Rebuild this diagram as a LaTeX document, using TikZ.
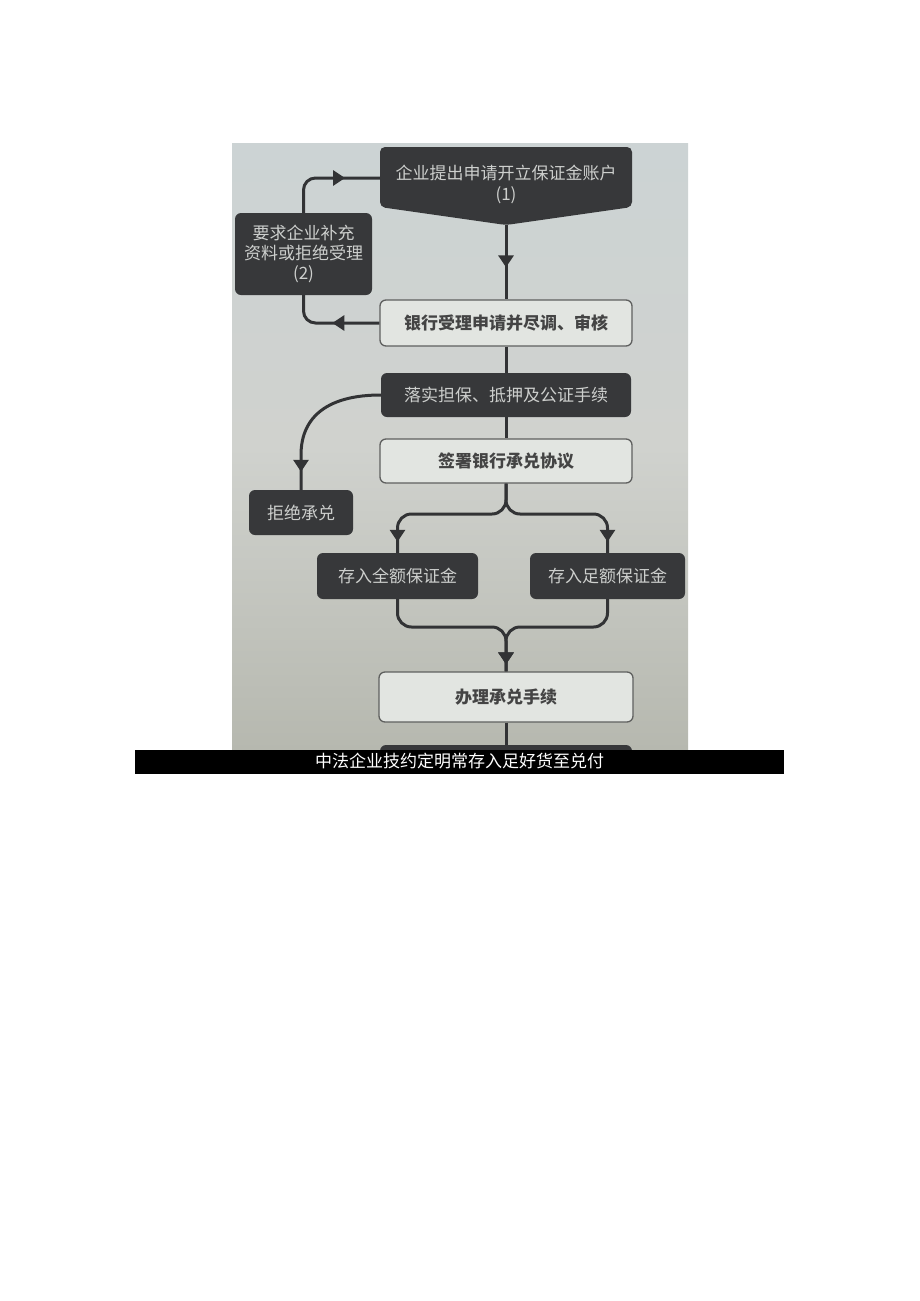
\documentclass[tikz,border=0pt]{standalone}
\usepackage{fontspec}
\newfontfamily\cjk{Noto Sans CJK SC}
\usetikzlibrary{arrows.meta,decorations.markings}
\definecolor{boxdark}{RGB}{55,56,58}
\definecolor{boxlight}{RGB}{226,229,225}
\definecolor{edgegray}{RGB}{95,96,95}
\definecolor{linedark}{RGB}{50,51,53}
\definecolor{textlight}{RGB}{205,207,205}
\definecolor{textdark}{RGB}{68,68,68}
\definecolor{phototop}{RGB}{204,211,212}
\definecolor{photomid}{RGB}{208,210,206}
\definecolor{photobot}{RGB}{182,184,175}
\begin{document}
\begin{tikzpicture}[x=1pt,y=-1pt,
  cjkfont/.style={font=\cjk\fontsize{17}{21}\selectfont},
  darkbox/.style={cjkfont, fill=boxdark, draw=none, rounded corners=6pt, text=textlight, inner sep=0pt, align=center},
  lightbox/.style={cjkfont, fill=boxlight, draw=edgegray, line width=1.3pt, rounded corners=6pt, text=textdark, inner sep=0pt, align=center, font=\cjk\bfseries\fontsize{17}{21}\selectfont},
  conn/.style={color=linedark, line width=3pt},
  arrowat/.style={postaction=decorate, decoration={markings, mark=at position #1 with {\arrow{Triangle[width=15pt,length=12pt]}}}}
]
\fill[white] (0,0) rectangle (920,1301);
\useasboundingbox (0,0) rectangle (920,1301);
% photo background
\shade[top color=phototop, bottom color=photobot, middle color=photomid] (232,143) rectangle (688,750);

% box 1 (pentagon)
\fill[boxdark, rounded corners=5pt] (380,180) -- (380,147) -- (632,147) -- (632,207) -- (506,225) -- (380,207) -- cycle;
\node[cjkfont, text=textlight, align=center, inner sep=0pt] (b1) at (506,184) {企业提出申请开立保证金账户\\(1)};
\coordinate (b1w) at (380,178);
\coordinate (b1tip) at (506,225);

\node[darkbox, minimum width=137, minimum height=82, font=\cjk\fontsize{17}{20}\selectfont] (b2) at (303.5,254) {要求企业补充\\资料或拒绝受理\\(2)};
\node[lightbox, minimum width=252, minimum height=46] (b3) at (506,323) {银行受理申请并尽调、审核};
\node[darkbox, minimum width=250, minimum height=44] (b4) at (506,395) {落实担保、抵押及公证手续};
\node[darkbox, minimum width=104, minimum height=45] (b5) at (301,512.5) {拒绝承兑};
\node[lightbox, minimum width=252, minimum height=44] (b6) at (506,461) {签署银行承兑协议};
\node[darkbox, minimum width=161, minimum height=46] (b7) at (397.5,576) {存入全额保证金};
\node[darkbox, minimum width=155, minimum height=46] (b8) at (607.5,576) {存入足额保证金};
\node[lightbox, minimum width=254, minimum height=50] (b9) at (506,697) {办理承兑手续};
\node[darkbox, minimum width=252, minimum height=16] (b10) at (506,753) {};

\coordinate (fk) at (506,514);
\coordinate (mg) at (506,627);

% connectors
\draw[conn, arrowat=-32pt] (b1tip) -- (b3.north);
\draw[conn, rounded corners=12pt, arrowat=47pt] (b3.west) -| (b2.south);
\draw[conn, rounded corners=12pt, arrowat=-35pt] (b2.north) |- (b1w);
\draw[conn] (b3.south) -- (b4.north);
\draw[conn, arrowat=-18pt] (b4.west) .. controls (330,395) and (301,415) .. (301,455) -- (b5.north);
\draw[conn] (b4.south) -- (b6.north);
\draw[conn, rounded corners=14pt, arrowat=-11pt] (b6.south) -- (fk) -| (b7.north);
\draw[conn, rounded corners=14pt, arrowat=-11pt] (b6.south) -- (fk) -| (b8.north);
\draw[conn, rounded corners=14pt, arrowat=-7pt] (b7.south) |- (mg) -- (b9.north);
\draw[conn, rounded corners=14pt, arrowat=-7pt] (b8.south) |- (mg) -- (b9.north);
\draw[conn] (b9.south) -- (b10.north);

% caption bar
\node[cjkfont, fill=black, text=white, minimum width=649, minimum height=24, inner sep=0pt] (bar) at (459.5,761.5) {中法企业技约定明常存入足好货至兑付};
\end{tikzpicture}
\end{document}
